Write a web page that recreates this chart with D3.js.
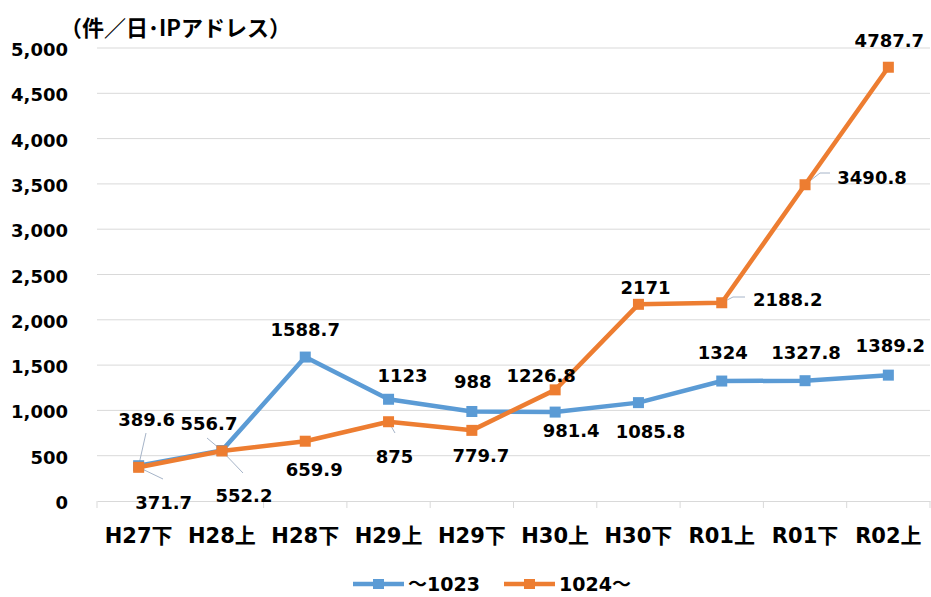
<!DOCTYPE html>
<html>
<head>
<meta charset="utf-8">
<script src="https://cdn.jsdelivr.net/npm/d3@7"></script>
<style>
body { margin: 0; background: #fff; }
text { font-family: "DejaVu Sans", "Noto Sans CJK JP", sans-serif; font-weight: bold; fill: #000; }
.jp { font-family: "Noto Sans CJK JP", sans-serif; }
</style>
</head>
<body>
<svg id="chart" width="931" height="597"></svg>
<script>
// periods and values (件/日・IPアドレス)
var periods = ["H27下", "H28上", "H28下", "H29上", "H29下", "H30上", "H30下", "R01上", "R01下", "R02上"];
var low = [389.6, 556.7, 1588.7, 1123, 988, 981.4, 1085.8, 1324, 1327.8, 1389.2];   // ~1023
var high = [371.7, 552.2, 659.9, 875, 779.7, 1226.8, 2171, 2188.2, 3490.8, 4787.7]; // 1024~
var yTicks = [0, 500, 1000, 1500, 2000, 2500, 3000, 3500, 4000, 4500, 5000];
var seriesNames = ["～1023", "1024～"];
var colors = ["#5b9bd5", "#ed7d31"];

// label offsets from each point [dx, dy] (text centre, baseline)
var lowLab = [[8, -40], [-13, -21], [0, -21], [14, -17], [1, -23], [16, 25], [12, 35], [1, -22], [1, -22], [2, -23]];
var highLab = [[25, 42], [22, 51], [9, 35], [6, 41], [9, 32], [-14, -8], [7, -10], [66, 3], [67, -1], [1, -20]];

var svg = d3.select("#chart");
var x = d3.scaleBand().domain(periods).range([97, 930]);
var y = d3.scaleLinear().domain([0, 5000]).range([501, 48]);
var cx = function(d) { return x(d) + x.bandwidth() / 2; };

// grid
svg.append("g").selectAll("line").data(yTicks.slice(1)).enter().append("line")
  .attr("x1", 97).attr("x2", 930)
  .attr("y1", function(d) { return y(d); }).attr("y2", function(d) { return y(d); })
  .attr("stroke", "#d9d9d9").attr("stroke-width", 1);

// y axis labels
var yAxis = d3.axisLeft(y).tickValues(yTicks).tickSize(0).tickPadding(0)
  .tickFormat(d3.format(","));
var ga = svg.append("g").attr("transform", "translate(68,0)").call(yAxis);
ga.select(".domain").remove();
ga.selectAll("text").attr("font-size", 18).attr("font-family", null).attr("dy", "0.42em");

// x axis
var xAxis = d3.axisBottom(x).tickSize(0).tickPadding(0);
var gx = svg.append("g").attr("transform", "translate(0,501)").call(xAxis);
gx.select(".domain").attr("stroke", "#d9d9d9");
gx.selectAll("text").attr("font-size", 21).attr("font-family", null).attr("dy", null).attr("y", 42);
// category boundary ticks
gx.append("g").selectAll("line").data(d3.range(periods.length + 1)).enter().append("line")
  .attr("x1", function(i) { return 97 + i * x.bandwidth(); })
  .attr("x2", function(i) { return 97 + i * x.bandwidth(); })
  .attr("y1", 0).attr("y2", 7).attr("stroke", "#d9d9d9");

// title
svg.append("text").attr("class", "jp").attr("x", 60).attr("y", 36)
  .attr("font-size", 22).text("（件／日･IPアドレス）");

// leader lines
var P = function(arr, i) { return [cx(periods[i]), y(arr[i])]; };
var leaders = [
  [[146, 433], P(low, 0)],
  [P(high, 0), [163, 479]],
  [[207, 438], P(low, 1)],
  [P(high, 1), [243, 473]],
  [P(high, 3), [395, 433]],
  [P(high, 7), [733, 297], [745, 297]],
  [P(high, 8), [820, 173], [830, 173]]
];
svg.append("g").selectAll("polyline").data(leaders).enter().append("polyline")
  .attr("points", function(d) { return d.join(" "); })
  .attr("fill", "none").attr("stroke", "#a6b4c8").attr("stroke-width", 1);

var line = d3.line().x(function(d, i) { return cx(periods[i]); }).y(function(d) { return y(d); });

[low, high].forEach(function(s, k) {
  var g = svg.append("g");
  g.append("path").datum(s).attr("d", line).attr("fill", "none")
    .attr("stroke", colors[k]).attr("stroke-width", 4.5).attr("stroke-linejoin", "round");
  g.selectAll("rect").data(s).enter().append("rect")
    .attr("x", function(d, i) { return cx(periods[i]) - 5.5; })
    .attr("y", function(d) { return y(d) - 5.5; })
    .attr("width", 11).attr("height", 11).attr("fill", colors[k]);
});

[[low, lowLab], [high, highLab]].forEach(function(p) {
  svg.append("g").selectAll("text").data(p[0]).enter().append("text")
    .attr("x", function(d, i) { return cx(periods[i]) + p[1][i][0]; })
    .attr("y", function(d, i) { return y(d) + p[1][i][1]; })
    .attr("text-anchor", "middle").attr("font-size", 18)
    .text(function(d) { return d; });
});

// legend
var legX = [353, 504];
seriesNames.forEach(function(n, k) {
  var lg = svg.append("g").attr("transform", "translate(" + legX[k] + ",584)");
  lg.append("line").attr("x1", 0).attr("x2", 51).attr("stroke", colors[k]).attr("stroke-width", 4.5);
  lg.append("rect").attr("x", 20).attr("y", -5).attr("width", 11).attr("height", 10).attr("fill", colors[k]);
  lg.append("text").attr("x", 55).attr("y", 7)
    .attr("font-size", 19).text(n);
});
</script>
</body>
</html>
